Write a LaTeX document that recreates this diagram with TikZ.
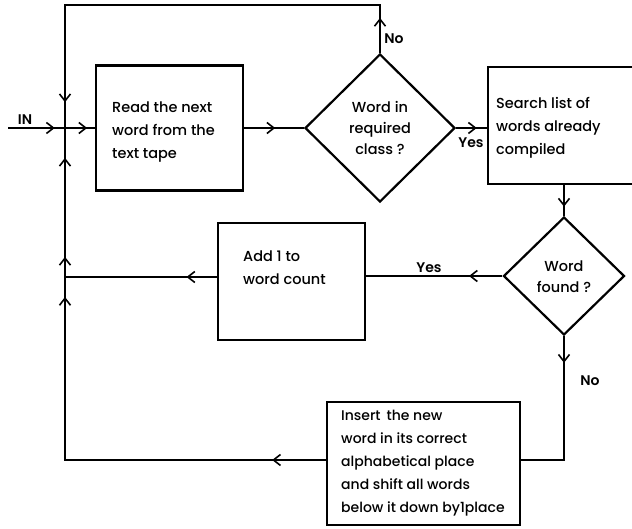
\documentclass[tikz,border=0pt]{standalone}
\usepackage{fontspec}
\setmainfont{Poppins}[UprightFont=* Medium, BoldFont=* SemiBold]
\usetikzlibrary{shapes.geometric,arrows.meta,decorations.markings}

\tikzset{
  flow/.style={line width=2.2pt, line join=miter},
  stepbox/.style={draw, line width=2.2pt, rectangle, inner sep=0pt},
  testbox/.style={draw, line width=2.2pt, diamond, inner sep=0pt},
  txt/.style={font=\fontsize{14.5}{23}\selectfont, align=left, inner sep=0pt},
  ctxt/.style={font=\fontsize{14.5}{21}\selectfont, align=center, inner sep=0pt},
  lbl/.style={font=\fontsize{14}{15}\selectfont\bfseries, inner sep=0pt},
  barb/.style={postaction={decorate, decoration={markings,
      mark=at position #1 with {\arrow{Straight Barb[length=7pt,width=11pt,line width=1.6pt]}}}}},
}

\begin{document}
\begin{tikzpicture}[x=1pt, y=-1pt]
\useasboundingbox (0,0) rectangle (632,529);
\clip (0,0) rectangle (632,529);

% process boxes and decisions
\node[stepbox, minimum width=147pt, minimum height=125pt] (read) at (169.5,128) {};
\node[txt, anchor=west] (readtxt) at (112,132) {Read the next\\word from the\\text tape};

\node[testbox, minimum width=150pt, minimum height=148pt] (d1) at (380,128) {};
\node[ctxt] (d1txt) at (380,128) {Word in\\required\\class ?};

\node[stepbox, minimum width=162pt, minimum height=117pt] (search) at (569,125.5) {};
\node[txt, anchor=west] (searchtxt) at (496,128) {Search list of\\words already\\compiled};

\node[testbox, minimum width=121pt, minimum height=118pt] (d2) at (564,276) {};
\node[ctxt] (d2txt) at (564,277) {Word\\found ?};

\node[stepbox, minimum width=147pt, minimum height=117pt] (add) at (291.5,281.5) {};
\node[txt, anchor=west] (addtxt) at (243,268) {Add 1 to\\word count};

\node[stepbox, minimum width=193pt, minimum height=123pt] (ins) at (423.5,463.5) {};
\node[txt, anchor=west, font=\fontsize{14}{23}\selectfont] (instxt) at (341,463) {Insert\, the new\\word in its correct\\alphabetical place\\and shift all words\\below it down by1place};

% junctions on the return line
\coordinate (in) at (8,128);
\coordinate (j1) at (65,128);
\coordinate (j2) at (65,277);
\coordinate (top) at (65,5);
\coordinate (bl) at (65,460);
\coordinate (br) at (564,460);

% labels
\node[lbl] (inlbl) at (25,120) {IN};
\node[lbl] (no1) at (394,39) {No};
\node[lbl] (yes1) at (471,143) {Yes};
\node[lbl] (yes2) at (429,268) {Yes};
\node[lbl] (no2) at (590,381) {No};

% connectors
\draw[flow, barb=0.82] (in) -- (j1);
\draw[flow, barb=0.74] (j1) -- (read.west);
\draw[flow, barb=0.52] (read.east) -- (d1.west);
\draw[flow, barb=0.67] (d1.east) -- (search.west |- d1.east);
\draw[flow, barb=0.70] (d2.north |- search.south) -- (d2.north);
\draw[flow, barb=0.245] (d2.west) -- (add.east |- d2.west);
\draw[flow, barb=0.20] (add.west |- j2) -- (j2);
\draw[flow, barb=0.16] (d2.south) -- (br) -- (br -| ins.east);
\draw[flow, barb=0.121, barb=0.955] (bl -| ins.west) -- (bl) -- (j2);
\draw[flow, line width=2.8pt, barb=0.135, barb=0.80] (j2) -- (j1);
\draw[flow, barb=0.072, barb=0.947] (d1.north) -- (d1.north |- top) -- (top) -- (j1);
\end{tikzpicture}
\end{document}
